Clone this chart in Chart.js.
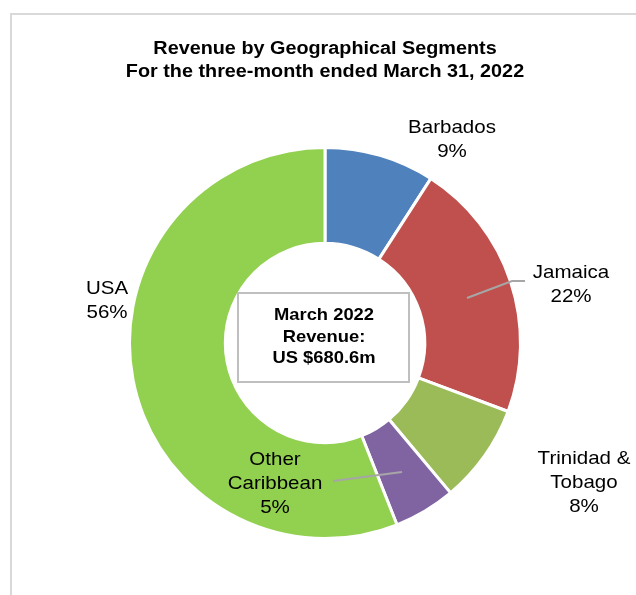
<!DOCTYPE html>
<html>
<head>
<meta charset="utf-8">
<script src="https://cdn.jsdelivr.net/npm/chart.js@4.4.1/dist/chart.umd.min.js"></script>
<style>
  html, body { margin: 0; padding: 0; background: #fff; }
  #wrap { position: relative; width: 636px; height: 595px; }
</style>
</head>
<body>
<div id="wrap"><canvas id="myChart" width="636" height="595"></canvas></div>
<script>
// data
const segments = ['Barbados', 'Jamaica', 'Trinidad & Tobago', 'Other Caribbean', 'USA'];
const revenueShare = [9.1, 21.6, 8.2, 5.1, 56.0];
const sliceColors = ['#4f81bd', '#c0504d', '#9bbb59', '#8064a2', '#92d050'];
const titleLines = ['Revenue by Geographical Segments', 'For the three-month ended March 31, 2022'];
const centerLines = ['March 2022', 'Revenue:', 'US $680.6m'];

// label text lines (name lines + percent) and where they sit, relative to the doughnut centre
const labelNames = [['Barbados'], ['Jamaica'], ['Trinidad &', 'Tobago'], ['Other', 'Caribbean'], ['USA']];
const labelSpots = [
  { dx: 127, dy: -210 },
  { dx: 246, dy: -65 },
  { dx: 259, dy: 121 },
  { dx: -50, dy: 122 },
  { dx: -218, dy: -49 }
];
const SX = 1.08; // text in the picture is a bit wide

const FONT = '"Liberation Sans", Arial, sans-serif';

function wideText(c, txt, x, y, sx) {
  c.save();
  c.translate(x, y);
  c.scale(sx, 1);
  c.fillText(txt, 0, 0);
  c.restore();
}

const extras = {
  id: 'extras',
  beforeDraw(chart) {
    const c = chart.ctx;
    // the light grey frame
    c.save();
    c.strokeStyle = '#d9d9d9';
    c.lineWidth = 2;
    c.beginPath();
    c.moveTo(11, 600);
    c.lineTo(11, 14);
    c.lineTo(640, 14);
    c.stroke();
    c.restore();
  },
  afterDraw(chart) {
    const c = chart.ctx;
    const arc = chart.getDatasetMeta(0).data[0];
    const cx = arc.x, cy = arc.y;

    c.save();
    c.fillStyle = '#000';
    c.textAlign = 'center';
    c.textBaseline = 'alphabetic';

    // title
    c.font = 'bold 18px ' + FONT;
    wideText(c, titleLines[0], 325, 54, 1.1);
    wideText(c, titleLines[1], 325, 77, 1.1);

    // centre box
    c.strokeStyle = '#bfbfbf';
    c.lineWidth = 2;
    c.strokeRect(cx - 87, cy - 50, 171, 89);
    c.font = 'bold 17px ' + FONT;
    wideText(c, centerLines[0], cx - 1, cy - 23, SX);
    wideText(c, centerLines[1], cx - 1, cy - 1, SX);
    wideText(c, centerLines[2], cx - 1, cy + 20, SX);

    // leader lines
    c.strokeStyle = '#a6a6a6';
    c.lineWidth = 2;
    c.beginPath();
    c.moveTo(cx + 142, cy - 45);
    c.lineTo(cx + 187, cy - 62);
    c.lineTo(cx + 200, cy - 62);
    c.stroke();
    c.beginPath();
    c.moveTo(cx + 8, cy + 138);
    c.lineTo(cx + 77, cy + 129);
    c.stroke();

    // segment labels
    c.font = '19px ' + FONT;
    revenueShare.forEach((v, i) => {
      const lines = labelNames[i].concat([Math.round(v) + '%']);
      const s = labelSpots[i];
      lines.forEach((t, k) => {
        wideText(c, t, cx + s.dx, cy + s.dy + k * 24, SX);
      });
    });
    c.restore();
  }
};

new Chart(document.getElementById('myChart'), {
  type: 'doughnut',
  data: {
    labels: segments,
    datasets: [{
      data: revenueShare,
      backgroundColor: sliceColors,
      borderColor: '#ffffff',
      borderWidth: 3
    }]
  },
  options: {
    responsive: false,
    animation: false,
    cutout: '51%',
    layout: { padding: { left: 127, right: 113, top: 146, bottom: 55 } },
    plugins: {
      legend: { display: false },
      tooltip: { enabled: false },
      title: { display: false }
    }
  },
  plugins: [extras]
});
</script>
</body>
</html>
